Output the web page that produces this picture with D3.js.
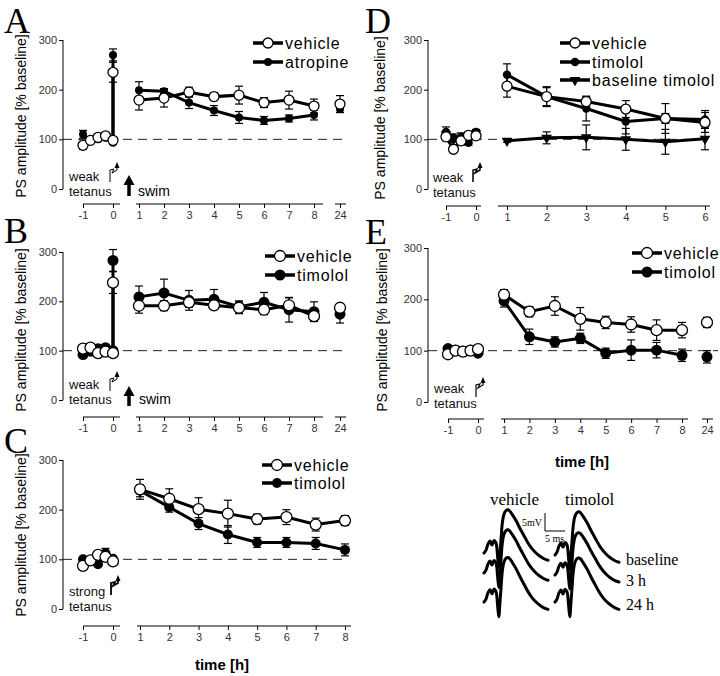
<!DOCTYPE html>
<html><head><meta charset="utf-8">
<script src="https://cdn.jsdelivr.net/npm/d3@7/dist/d3.min.js"></script>
<style>body{margin:0;background:#fff}svg{display:block}</style>
</head><body>
<svg id="c" width="720" height="676"></svg>
<script>
// ---------------- DATA ----------------
const baseTimes = [-1, -0.75, -0.5, -0.25, 0];
const hours8_24 = [1, 2, 3, 4, 5, 6, 7, 8, 24];
const hours8 = [1, 2, 3, 4, 5, 6, 7, 8];
const hours6 = [1, 2, 3, 4, 5, 6];
const yTicks = [0, 100, 200, 300];
const xTicks24 = [[-1, 0], [1, 2, 3, 4, 5, 6, 7, 8], [24]];
const xTicks8 = [[-1, 0], [1, 2, 3, 4, 5, 6, 7, 8]];
const xTicks6 = [[-1, 0], [1, 2, 3, 4, 5, 6]];

// Panel A
const aVehBase = [88, 98, 104, 107, 98];
const aVehBaseErr = [8, 4, 3, 3, 3];
const aVehTet = 235, aVehTetErr = 20;
const aVeh = [179, 183, 195, 186, 189, 174, 179, 167, 171];
const aVehErr = [20, 18, 10, 8, 18, 10, 18, 14, 17];
const aAtrBase = [110, 96, 100, 103, 93];
const aAtrBaseErr = [8, 3, 3, 3, 3];
const aAtrTet = 270, aAtrTetErr = 12;
const aAtr = [199, 197, 174, 158, 144, 138, 142, 149, 161];
const aAtrErr = [17, 5, 12, 10, 12, 8, 7, 10, 7];

// Panel B
const bVehBase = [104, 106, 95, 98, 95];
const bVehBaseErr = [3, 3, 3, 3, 3];
const bVehTet = 238, bVehTetErr = 22;
const bVeh = [191, 191, 198, 192, 187, 183, 192, 170, 187];
const bVehErr = [15, 10, 10, 8, 12, 10, 15, 10, 8];
const bTimBase = [92, 99, 104, 106, 100];
const bTimBaseErr = [3, 3, 3, 3, 3];
const bTimTet = 283, bTimTetErr = 22;
const bTim = [209, 217, 202, 204, 189, 198, 183, 179, 174];
const bTimErr = [22, 28, 20, 20, 12, 20, 25, 20, 18];

// Panel C
const cVehBase = [87, 98, 109, 105, 96];
const cVehBaseErr = [4, 4, 4, 6, 8];
const cVeh = [241, 222, 201, 192, 181, 185, 170, 178];
const cVehErr = [20, 20, 23, 27, 10, 15, 13, 10];
const cTimBase = [100, 97, 90, 112, 101];
const cTimBaseErr = [4, 4, 4, 10, 4];
const cTim = [238, 205, 172, 150, 134, 134, 132, 119];
const cTimErr = [12, 10, 12, 18, 10, 10, 12, 12];

// Panel D
const dVehBase = [105, 80, 97, 108, 107];
const dVehBaseErr = [8, 5, 8, 6, 6];
const dVeh = [207, 186, 176, 161, 142, 134];
const dVehErr = [22, 18, 10, 17, 30, 20];
const dTimBase = [115, 103, 105, 93, 115];
const dTimBaseErr = [10, 8, 8, 5, 5];
const dTim = [230, 186, 162, 136, 142, 140];
const dTimErr = [22, 20, 25, 25, 10, 18];
const dBtBase = [110, 100, 102, 97, 112];
const dBtBaseErr = [6, 5, 5, 5, 5];
const dBt = [97, 103, 104, 100, 95, 101];
const dBtErr = [3, 12, 25, 22, 25, 22];

// Panel E
const eVehBase = [93, 100, 98, 100, 103];
const eVehBaseErr = [3, 3, 3, 3, 3];
const eVeh = [209, 176, 187, 162, 155, 151, 140, 140, 155];
const eVehErr = [10, 10, 18, 22, 12, 15, 20, 15, 10];
const eTimBase = [104, 101, 99, 101, 95];
const eTimBaseErr = [3, 3, 3, 3, 3];
const eTim = [197, 127, 117, 124, 95, 101, 101, 91, 88];
const eTimErr = [12, 15, 10, 10, 10, 20, 15, 12, 12];

// Example field potential traces (ms, mV)
const traceT = [0, 0.5, 1, 1.5, 2, 2.5, 3, 3.4, 3.7, 4, 4.3, 4.6, 5, 5.5, 6, 6.5, 7, 8, 9, 10, 11, 12, 13, 14, 15, 16];
const traceV = [0, 0.8, 2.5, 3.3, 2.2, 3.5, 2.8, -1, -4, 0, 4.5, 8.5, 10.8, 11.8, 12, 11.6, 10.8, 9, 6.8, 4.8, 2.8, 1.2, 0, -0.9, -1.6, -2];
const traceGroups = ['vehicle', 'timolol'];
const traceRows = ['baseline', '3 h', '24 h'];
const traceAmp = { vehicle: [1, 1, 1.03], timolol: [1, 0.98, 1.02] };

// ---------------- DRAWING ----------------
const svg = d3.select('#c');
const SANS = 'Liberation Sans, Arial, sans-serif';
const SERIF = 'Liberation Serif, Times New Roman, serif';

function drawMarker(g, type, r, cx, cy) {
  if (type === 'open') {
    g.append('circle').attr('cx', cx).attr('cy', cy).attr('r', r)
      .attr('fill', '#fff').attr('stroke', '#000').attr('stroke-width', 1.3);
  } else if (type === 'filled') {
    g.append('circle').attr('cx', cx).attr('cy', cy).attr('r', r).attr('fill', '#000');
  } else {
    g.append('path').attr('d', d3.symbol(d3.symbolTriangle, r * r * 2.8)())
      .attr('transform', `translate(${cx},${cy}) rotate(180)`).attr('fill', '#000');
  }
}

function errBar(g, cx, cy1, cy2) {
  g.append('line').attr('x1', cx).attr('x2', cx).attr('y1', cy1).attr('y2', cy2)
    .attr('stroke', '#000').attr('stroke-width', 1.2);
  [cy1, cy2].forEach(yy => g.append('line').attr('x1', cx - 4).attr('x2', cx + 4)
    .attr('y1', yy).attr('y2', yy).attr('stroke', '#000').attr('stroke-width', 1.2));
}

function tetGlyph(g, gx, gy, w) {
  g.append('path')
    .attr('d', `M${gx},${gy} V${gy - 12} L${gx + 4},${gy - 13} L${gx + 2},${gy - 9} L${gx + 7},${gy - 12} V${gy - 18}`)
    .attr('fill', 'none').attr('stroke', '#000').attr('stroke-width', w);
  g.append('path').attr('d', `M${gx + 4.5},${gy - 14} L${gx + 7},${gy - 20} L${gx + 9.5},${gy - 14} Z`)
    .attr('fill', '#000');
}

function drawPanel(p) {
  const g = svg.append('g');
  const x = d3.scaleLinear().domain(p.xd).range(p.xr);
  const y = d3.scaleLinear().domain([0, 300]).range([p.y0, p.y300]);

  g.append('text').attr('x', p.lx).attr('y', p.ly).attr('font-family', SERIF)
    .attr('font-size', 36).text(p.letter);

  // y axis
  const ya = g.append('g').attr('transform', `translate(${p.ax},0)`)
    .call(d3.axisLeft(y).tickValues(yTicks).tickSize(4).tickSizeOuter(0).tickPadding(2));
  ya.select('.domain').attr('d', `M0,${y(0)}V${y(300)}`);
  ya.selectAll('text').attr('font-family', SANS).attr('font-size', 11).attr('fill', '#333');

  // y label
  g.append('text').attr('transform', `translate(${p.labX},${p.labY}) rotate(-90)`)
    .attr('text-anchor', 'middle').attr('dominant-baseline', 'middle')
    .attr('font-family', SANS).attr('font-size', 14).text('PS amplitude [% baseline]');

  // x axis segments
  p.ticks.forEach((tv, i) => {
    const ag = g.append('g').attr('transform', `translate(0,${p.axisY})`)
      .call(d3.axisBottom(x).tickValues(tv).tickSize(4).tickSizeOuter(0).tickPadding(3).tickFormat(d => String(d)));
    const x1 = x(tv[0]) + p.segExt[i][0], x2 = x(tv[tv.length - 1]) + p.segExt[i][1];
    ag.select('.domain').attr('d', `M${x1},0H${x2}`);
    ag.selectAll('text').attr('font-family', SANS).attr('font-size', 11).attr('fill', '#333');
  });

  // dashed 100% line
  g.append('line').attr('x1', p.ax).attr('x2', p.dashEnd).attr('y1', y(100)).attr('y2', y(100))
    .attr('stroke', '#222').attr('stroke-width', 1).attr('stroke-dasharray', '9,6');

  const line = d3.line().x(d => x(d.t)).y(d => y(d.v));

  // error bars
  p.series.forEach(s => {
    const basePts = baseTimes.map((t, i) => ({ t, v: s.base[i], e: s.baseErr[i] }));
    const mainPts = s.times.map((t, i) => ({ t, v: s.vals[i], e: s.errs[i] }));
    const tetPts = s.tet !== undefined ? [{ t: 0, v: s.tet, e: s.tetErr }] : [];
    basePts.concat(tetPts, mainPts).forEach(d => errBar(g, x(d.t), y(d.v + d.e), y(d.v - d.e)));
  });
  // lines
  p.series.forEach(s => {
    const basePts = baseTimes.map((t, i) => ({ t, v: s.base[i] }));
    const tetPts = s.tet !== undefined ? [{ t: 0, v: s.tet }] : [];
    const mainPts = s.times.map((t, i) => ({ t, v: s.vals[i] })).filter(d => d.t <= 8);
    g.append('path').attr('d', line(basePts.concat(tetPts))).attr('fill', 'none')
      .attr('stroke', '#000').attr('stroke-width', 3);
    g.append('path').attr('d', line(mainPts)).attr('fill', 'none')
      .attr('stroke', '#000').attr('stroke-width', 3);
  });
  // markers
  p.drawOrder.forEach(k => {
    const s = p.series[k];
    const pts = baseTimes.map((t, i) => ({ t, v: s.base[i] }))
      .concat(s.tet !== undefined ? [{ t: 0, v: s.tet }] : [])
      .concat(s.times.map((t, i) => ({ t, v: s.vals[i] })));
    pts.forEach(d => drawMarker(g, s.type, s.r, x(d.t), y(d.v)));
  });

  // legend
  p.series.forEach((s, i) => {
    const ly = p.legend.ys[i];
    g.append('line').attr('x1', p.legend.x).attr('x2', p.legend.x + 30).attr('y1', ly).attr('y2', ly)
      .attr('stroke', '#000').attr('stroke-width', 3.5);
    drawMarker(g, s.type, s.r, p.legend.x + 15, ly);
    g.append('text').attr('x', p.legend.x + 32).attr('y', ly).attr('dominant-baseline', 'central')
      .attr('font-family', SANS).attr('font-size', 16).attr('letter-spacing', 0.8).text(s.name);
  });

  // tetanus annotation
  const t = p.tet;
  t.words.forEach((w, i) => g.append('text').attr('x', t.tx).attr('y', t.ty[i])
    .attr('font-family', SANS).attr('font-size', 13).attr('fill', '#111').text(w));
  tetGlyph(g, t.gx, t.gy, t.w);

  if (p.swim) {
    const s = p.swim;
    g.append('line').attr('x1', s.x).attr('x2', s.x).attr('y1', s.bot).attr('y2', s.top + 7)
      .attr('stroke', '#000').attr('stroke-width', 3.5);
    g.append('path').attr('d', `M${s.x - 5.5},${s.top + 10} L${s.x},${s.top} L${s.x + 5.5},${s.top + 10} Z`).attr('fill', '#000');
    g.append('text').attr('x', s.tx).attr('y', s.ty).attr('font-family', SANS).attr('font-size', 14).text('swim');
  }
  if (p.timeLabel) {
    g.append('text').attr('x', p.timeLabel.x).attr('y', p.timeLabel.y).attr('text-anchor', 'middle')
      .attr('font-family', SANS).attr('font-size', 15).attr('font-weight', 'bold').text('time [h]');
  }
}

const panels = [
  {
    letter: 'A', lx: 4, ly: 33, ax: 63, y0: 189, y300: 40,
    xd: [-1, 0, 1, 8, 24], xr: [83, 113, 139, 314, 340], axisY: 204,
    ticks: xTicks24, segExt: [[0, 7], [-3, 9], [-5, 6]], dashEnd: 347, labX: 22, labY: 116,
    legend: { x: 253, ys: [43, 62] },
    tet: { gx: 110, gy: 182, w: 1, words: ['weak', 'tetanus'], tx: 69, ty: [181, 196] },
    swim: { x: 129, top: 175, bot: 196, tx: 138, ty: 196 },
    series: [
      { name: 'vehicle', type: 'open', r: 5, base: aVehBase, baseErr: aVehBaseErr, tet: aVehTet, tetErr: aVehTetErr, times: hours8_24, vals: aVeh, errs: aVehErr },
      { name: 'atropine', type: 'filled', r: 4, base: aAtrBase, baseErr: aAtrBaseErr, tet: aAtrTet, tetErr: aAtrTetErr, times: hours8_24, vals: aAtr, errs: aAtrErr }
    ], drawOrder: [1, 0]
  },
  {
    letter: 'B', lx: 4, ly: 243, ax: 63, y0: 400, y300: 252,
    xd: [-1, 0, 1, 8, 24], xr: [83, 113, 139, 314, 340], axisY: 417,
    ticks: xTicks24, segExt: [[0, 7], [-3, 9], [-5, 6]], dashEnd: 347, labX: 22, labY: 330,
    legend: { x: 265, ys: [256, 275] },
    tet: { gx: 110, gy: 391, w: 1, words: ['weak', 'tetanus'], tx: 69, ty: [389, 404] },
    swim: { x: 129, top: 386, bot: 406, tx: 139, ty: 404 },
    series: [
      { name: 'vehicle', type: 'open', r: 5.5, base: bVehBase, baseErr: bVehBaseErr, tet: bVehTet, tetErr: bVehTetErr, times: hours8_24, vals: bVeh, errs: bVehErr },
      { name: 'timolol', type: 'filled', r: 5.5, base: bTimBase, baseErr: bTimBaseErr, tet: bTimTet, tetErr: bTimTetErr, times: hours8_24, vals: bTim, errs: bTimErr }
    ], drawOrder: [1, 0]
  },
  {
    letter: 'C', lx: 4, ly: 453, ax: 63, y0: 609, y300: 460,
    xd: [-1, 0, 1, 8], xr: [83, 113, 140, 345], axisY: 626,
    ticks: xTicks8, segExt: [[0, 7], [-3, 6]], dashEnd: 347, labX: 22, labY: 535,
    legend: { x: 262, ys: [465, 483] },
    tet: { gx: 111, gy: 595, w: 1.8, words: ['strong', 'tetanus'], tx: 69, ty: [596, 611] },
    timeLabel: { x: 222, y: 670 },
    series: [
      { name: 'vehicle', type: 'open', r: 5.5, base: cVehBase, baseErr: cVehBaseErr, times: hours8, vals: cVeh, errs: cVehErr },
      { name: 'timolol', type: 'filled', r: 5, base: cTimBase, baseErr: cTimBaseErr, times: hours8, vals: cTim, errs: cTimErr }
    ], drawOrder: [1, 0]
  },
  {
    letter: 'D', lx: 365, ly: 33, ax: 428, y0: 189, y300: 40,
    xd: [-1, 0, 1, 6], xr: [446, 476, 507, 705], axisY: 206,
    ticks: xTicks6, segExt: [[0, 5], [-9, 5]], dashEnd: 712, labX: 381, labY: 118,
    legend: { x: 560, ys: [43, 62, 80] },
    tet: { gx: 473, gy: 182, w: 1.5, words: ['weak', 'tetanus'], tx: 433, ty: [182, 197] },
    series: [
      { name: 'vehicle', type: 'open', r: 5, base: dVehBase, baseErr: dVehBaseErr, times: hours6, vals: dVeh, errs: dVehErr },
      { name: 'timolol', type: 'filled', r: 4.2, base: dTimBase, baseErr: dTimBaseErr, times: hours6, vals: dTim, errs: dTimErr },
      { name: 'baseline timolol', type: 'tri', r: 4.2, base: dBtBase, baseErr: dBtBaseErr, times: hours6, vals: dBt, errs: dBtErr }
    ], drawOrder: [2, 1, 0]
  },
  {
    letter: 'E', lx: 365, ly: 244, ax: 428, y0: 402, y300: 248,
    xd: [-1, 0, 1, 8, 24], xr: [448, 478, 504, 682, 707], axisY: 419,
    ticks: xTicks24, segExt: [[0, 6], [-3, 6], [-5, 6]], dashEnd: 718, labX: 383, labY: 330,
    legend: { x: 632, ys: [253, 272] },
    tet: { gx: 476, gy: 397, w: 1.2, words: ['weak', 'tetanus'], tx: 434, ty: [393, 408] },
    timeLabel: { x: 582, y: 467 },
    series: [
      { name: 'vehicle', type: 'open', r: 5.5, base: eVehBase, baseErr: eVehBaseErr, times: hours8_24, vals: eVeh, errs: eVehErr },
      { name: 'timolol', type: 'filled', r: 5.5, base: eTimBase, baseErr: eTimBaseErr, times: hours8_24, vals: eTim, errs: eTimErr }
    ], drawOrder: [1, 0]
  }
];

panels.forEach(drawPanel);

// ---------- example traces ----------
const traceLayout = {
  vehicle: { x0: 484, rows: [553, 573, 602], titleX: 490 },
  timolol: { x0: 555, rows: [555, 575, 602], titleX: 565 }
};
const tg = svg.append('g');
traceGroups.forEach(name => {
  const L = traceLayout[name];
  const tx = d3.scaleLinear().domain([0, 16]).range([L.x0, L.x0 + 64]);
  tg.append('text').attr('x', L.titleX).attr('y', 505).attr('font-family', SERIF).attr('font-size', 17).text(name);
  L.rows.forEach((ry, i) => {
    const ty = d3.scaleLinear().domain([0, 5]).range([ry, ry - 18]);
    const amp = traceAmp[name][i];
    const pts = traceT.map((t, j) => [tx(t), ty(traceV[j] * amp)]);
    tg.append('path').attr('d', d3.line().curve(d3.curveCatmullRom)(pts))
      .attr('fill', 'none').attr('stroke', '#000').attr('stroke-width', 3).attr('stroke-linecap', 'round')
      .attr('stroke-linejoin', 'round');
  });
});
const rowLabelY = [565, 586, 610];
traceRows.forEach((r, i) => tg.append('text').attr('x', 626).attr('y', rowLabelY[i])
  .attr('font-family', SERIF).attr('font-size', 16).text(r));
// scale bar: 5 mV, 5 ms
{
  const sx = d3.scaleLinear().domain([0, 5]).range([545, 565]);
  const sy = d3.scaleLinear().domain([0, 5]).range([531, 513]);
  tg.append('path').attr('d', `M${sx(0)},${sy(5)} V${sy(0)} H${sx(5)}`).attr('fill', 'none')
    .attr('stroke', '#000').attr('stroke-width', 1);
  tg.append('text').attr('x', 542).attr('y', 526).attr('text-anchor', 'end')
    .attr('font-family', SERIF).attr('font-size', 10).text('5mV');
  tg.append('text').attr('x', 545).attr('y', 542)
    .attr('font-family', SERIF).attr('font-size', 10).text('5 ms');
}
</script>
</body></html>
